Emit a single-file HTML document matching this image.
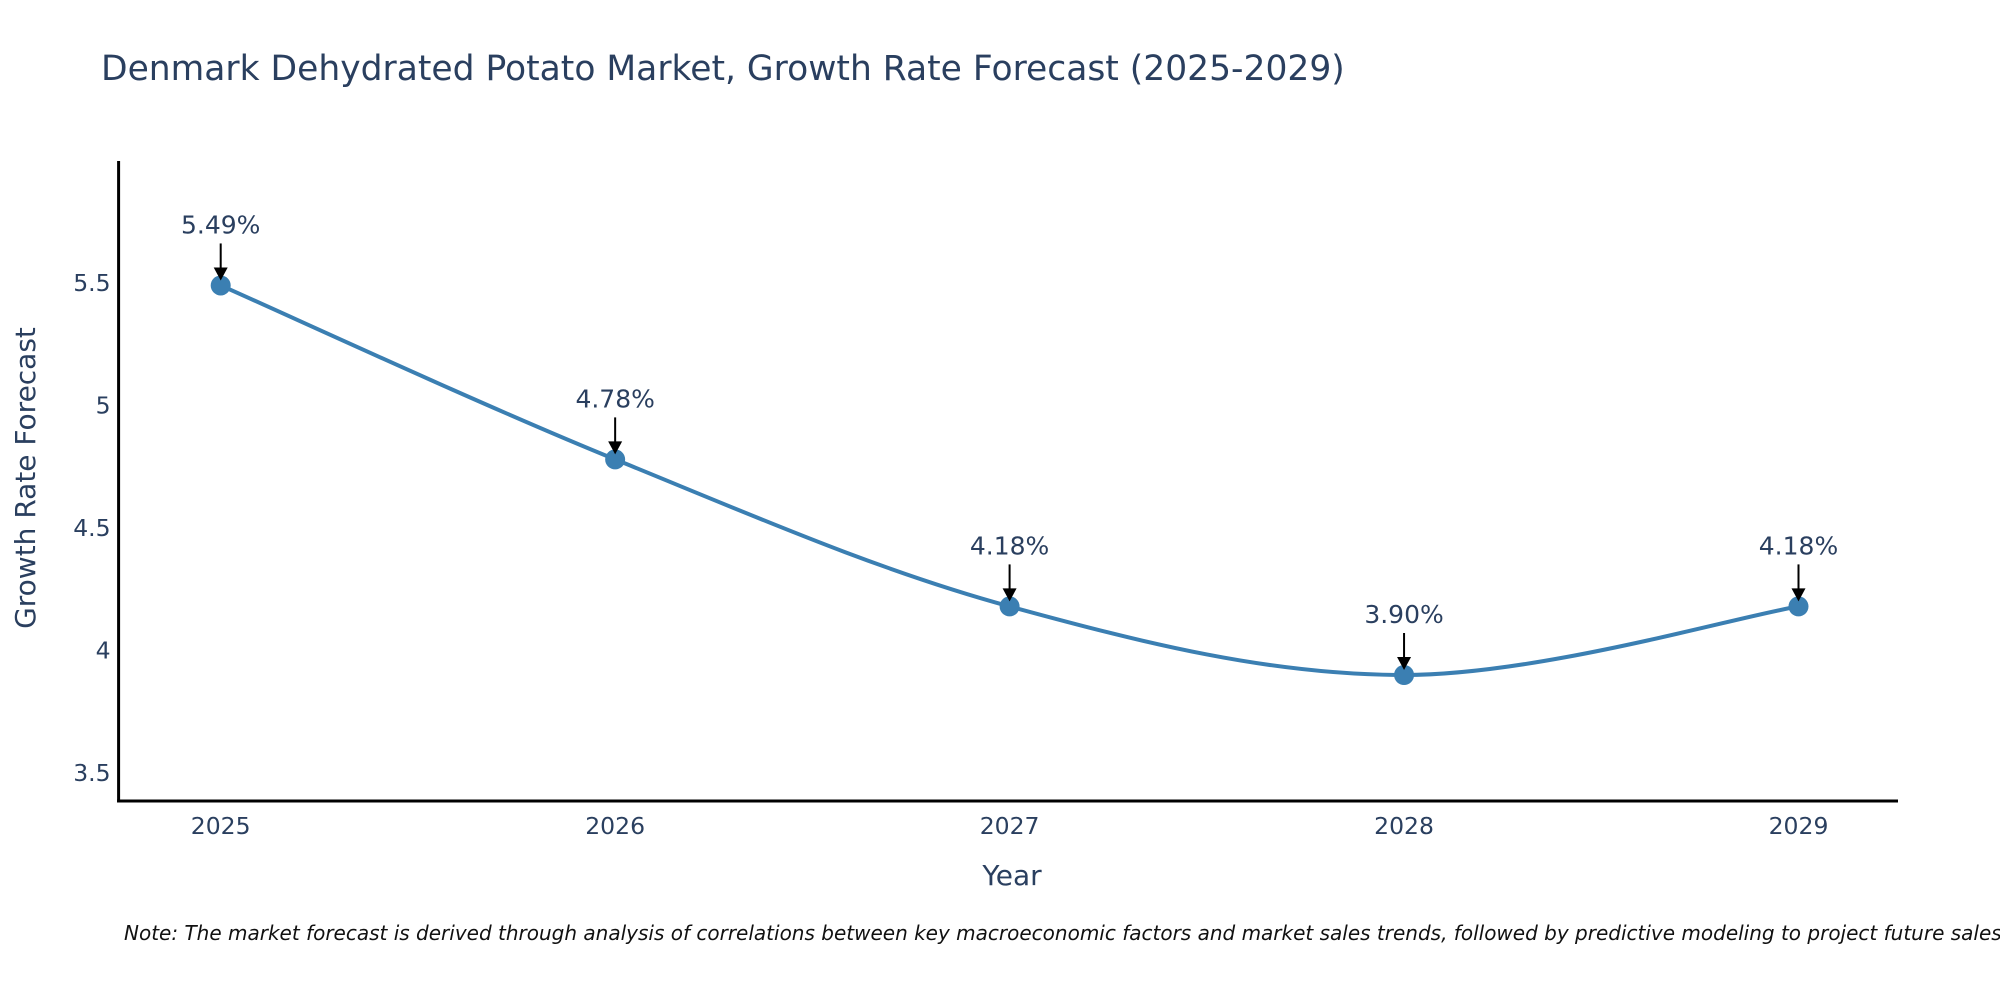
<!DOCTYPE html>
<html><head><meta charset="utf-8"><style>
body{margin:0;background:#fff}
svg{display:block;font-family:"DejaVu Sans","Liberation Sans",sans-serif}
</style></head><body>
<svg id="c" width="2000" height="1000">
<text x="101" y="80" font-size="34.5" fill="#2a3f5f">Denmark Dehydrated Potato Market, Growth Rate Forecast (2025-2029)</text>
<g id="plot"></g>
<text x="1012" y="885" font-size="28" fill="#2a3f5f" text-anchor="middle">Year</text>
<text transform="translate(35,478) rotate(-90)" font-size="28" fill="#2a3f5f" text-anchor="middle">Growth Rate Forecast</text>
<text x="124" y="940" font-size="20" font-style="italic" fill="#111">Note: The market forecast is derived through analysis of correlations between key macroeconomic factors and market sales trends, followed by predictive modeling to project future sales</text>
</svg>
<script>
const years=[2025,2026,2027,2028,2029];
const rates=[5.49,4.78,4.18,3.90,4.18];
const labels=["5.49%","4.78%","4.18%","3.90%","4.18%"];
const yTicks=[3.5,4,4.5,5,5.5];
const yTickLabels=["3.5","4","4.5","5","5.5"];
const NS="http://www.w3.org/2000/svg";
const g=document.getElementById('plot');
const X0=118.6,X1=1898,Y0=801,Y1=161;
const xs=v=>220.7+(v-2025)*394.45;
const ys=v=>650.5-(v-4)*245;
function mk(t,a,p){const e=document.createElementNS(NS,t);for(const k in a)e.setAttribute(k,a[k]);(p||g).appendChild(e);return e;}
let ax=mk('line',{x1:X0,y1:Y1,x2:X0,y2:Y0+1.5,stroke:'#000','stroke-width':3});


ax=mk('line',{x1:X0-1.5,y1:Y0,x2:X1,y2:Y0,stroke:'#000','stroke-width':3});


yTicks.forEach((v,i)=>{const t=mk('text',{x:X0-8,y:ys(v)+8,'font-size':23.5,fill:'#2a3f5f','text-anchor':'end'});t.textContent=yTickLabels[i];

});
years.forEach(v=>{const t=mk('text',{x:xs(v),y:834,'font-size':23.5,fill:'#2a3f5f','text-anchor':'middle'});t.textContent=String(v);

});
const P=years.map((y,i)=>[xs(y),ys(rates[i])]);
let d='M'+P[0][0]+','+P[0][1];const s=0.34;
for(let i=0;i<P.length-1;i++){const p0=P[i-1]||P[i],p1=P[i],p2=P[i+1],p3=P[i+2]||P[i+1];
const c1=[p1[0]+(p2[0]-p0[0])*s/2,p1[1]+(p2[1]-p0[1])*s/2],c2=[p2[0]-(p3[0]-p1[0])*s/2,p2[1]-(p3[1]-p1[1])*s/2];
d+=` C${c1[0]},${c1[1]} ${c2[0]},${c2[1]} ${p2[0]},${p2[1]}`;}
const ln=mk('path',{d:d,fill:'none',stroke:'#3b7fb2','stroke-width':4});


P.forEach((p,i)=>{const c=mk('circle',{cx:p[0],cy:p[1],r:10,fill:'#3b7fb2'});


const l=mk('line',{x1:p[0],y1:p[1]-42,x2:p[0],y2:p[1]-16,stroke:'#000','stroke-width':2});


const h=mk('path',{d:`M${p[0]-7},${p[1]-18} L${p[0]+7},${p[1]-18} L${p[0]},${p[1]-5} Z`,fill:'#000'});


const t=mk('text',{x:p[0],y:p[1]-52,'font-size':25,fill:'#2a3f5f','text-anchor':'middle'});t.textContent=labels[i];

});
</script>
</body></html>
